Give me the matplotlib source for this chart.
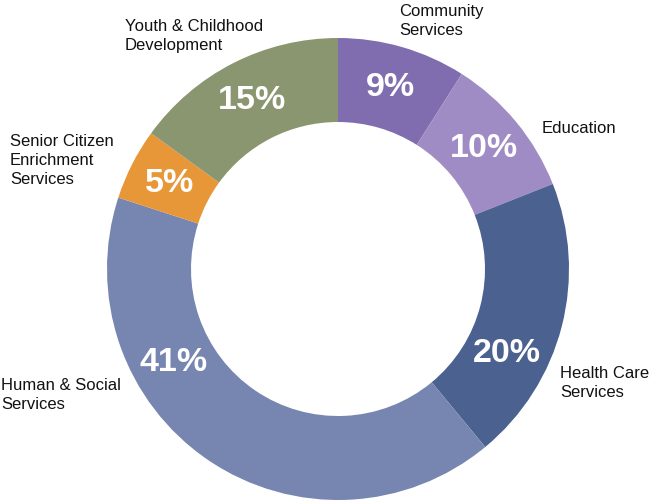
import numpy as np
import matplotlib
matplotlib.use("Agg")
import matplotlib.pyplot as plt

plt.rcParams["font.family"] = ["Liberation Sans", "DejaVu Sans"]

# data, clockwise from 12 o'clock
categories = [
    "Community\nServices",
    "Education",
    "Health Care\nServices",
    "Human & Social\nServices",
    "Senior Citizen\nEnrichment\nServices",
    "Youth & Childhood\nDevelopment",
]
shares = [9, 10, 20, 41, 5, 15]
colors = ["#806DAF", "#A08CC4", "#4B618F", "#7786B0", "#E79738", "#8A966F"]

# label placement: left edge and baseline of the last line,
# in pixels of the picture (y measured from top)
name_pos = [(399, 35), (542, 133), (560, 397), (1, 409), (10, 184), (125, 50)]
pct_shift = [0, 0, -12, -26, 0, 0]  # degrees away from wedge middle

W, H = 650, 501
cx, cy = 338, H - 269
r_out, r_in = 231, 147

fig = plt.figure(figsize=(W / 100, H / 100), dpi=100)
ax = fig.add_axes([0, 0, 1, 1])

ax.pie(shares, colors=colors, startangle=90, counterclock=False,
       radius=r_out, center=(cx, cy),
       wedgeprops=dict(width=r_out - r_in, linewidth=0, antialiased=True))

total = sum(shares)
cum = np.cumsum([0] + shares[:-1])
r_mid = (r_out + r_in) / 2
for i, v in enumerate(shares):
    ang = np.deg2rad(90 - 360 * (cum[i] + v / 2) / total + pct_shift[i])
    ax.text(cx + r_mid * np.cos(ang), cy + r_mid * np.sin(ang), f"{v}%",
            color="white", fontsize=24.5, fontweight="bold",
            ha="center", va="center")

for name, (x, y) in zip(categories, name_pos):
    ax.text(x, H - y, name, fontsize=12, color="#111111",
            ha="left", va="baseline", linespacing=1.32)

ax.set_xlim(0, W)
ax.set_ylim(0, H)
ax.set_aspect("equal")
ax.axis("off")

fig.savefig("out.png", dpi=100)
